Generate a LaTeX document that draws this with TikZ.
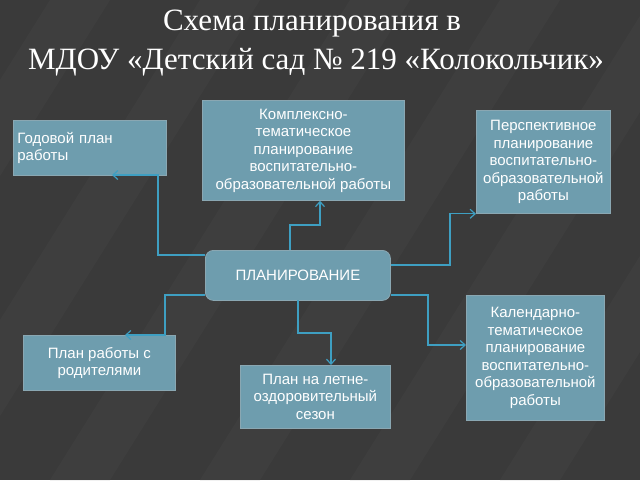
\documentclass[tikz,border=0pt]{standalone}
\usepackage{fontspec}
\setmainfont{Liberation Serif}
\newfontfamily\boxfont{Liberation Sans}
\usetikzlibrary{arrows.meta}
\definecolor{bg}{HTML}{3A3A3A}
\definecolor{bgl}{HTML}{424242}
\definecolor{boxc}{HTML}{6E9DAE}
\definecolor{boxb}{HTML}{8AA7B2}
\definecolor{linec}{HTML}{3E9FC2}
\tikzset{
  blk/.style={draw=boxb, line width=0.8pt, fill=boxc, text=white, font=\boxfont\fontsize{15}{17.5}\selectfont, align=center, inner sep=2pt, anchor=north west},
  conn/.style={draw=linec, line width=1.2pt, -{Straight Barb[length=5pt,width=9pt]}}
}
\begin{document}
\begin{tikzpicture}[x=1pt,y=-1pt]
\useasboundingbox (0,0) rectangle (640,480);
\fill[bg] (0,0) rectangle (640,480);
\begin{scope}
\clip (0,0) rectangle (640,480);
\foreach \s in {-400,-250,-100,50,200,350,500,650}{
  \fill[bgl,opacity=0.6] (\s,480) -- (\s+60,480) -- (\s+360,0) -- (\s+300,0) -- cycle;
}
\end{scope}
\node[text=white, font=\fontsize{31}{34}\selectfont] (t1) at (312,24) {Схема планирования в};
\node[text=white, font=\fontsize{31}{34}\selectfont] (t2) at (316,62) {МДОУ «Детский сад № 219 «Колокольчик»};

\node[blk, minimum width=153, minimum height=55, align=left, text width=145] (god) at (13,120) {Годовой план\\работы};
\node[blk, minimum width=202, minimum height=100] (kom) at (202,100) {Комплексно-\\тематическое\\планирование\\воспитательно-\\образовательной работы};
\node[blk, minimum width=134, minimum height=103] (per) at (476,110) {Перспективное\\планирование\\воспитательно-\\образовательной\\работы};
\node[blk, rounded corners=8pt, minimum width=185, minimum height=50] (plan) at (205,250) {ПЛАНИРОВАНИЕ};
\node[blk, minimum width=152, minimum height=55] (rod) at (23,335) {План работы с\\родителями};
\node[blk, minimum width=150, minimum height=63] (let) at (240,365) {План на летне-\\оздоровительный\\сезон};
\node[blk, minimum width=138, minimum height=125] (kal) at (466,295) {Календарно-\\тематическое\\планирование\\воспитательно-\\образовательной\\работы};

\coordinate (a1) at (112,175);
\draw[conn] (plan.west |- 0,255) -| (158,175) -- (a1);
\draw[conn] (290,250) -- (290,225) -| (kom.south -| 320,0);
\draw[conn] (plan.east |- 0,265) -- (450,265) |- (per.south west);
\coordinate (a4) at (125,335);
\draw[conn] (plan.west |- 0,295) -| (165,335) -- (a4);
\draw[conn] (298,300) -- (298,333) -| (let.north -| 331,0);
\draw[conn] (plan.east |- 0,295) -| (428,345) -- (kal.west |- 0,345);
\end{tikzpicture}
\end{document}
